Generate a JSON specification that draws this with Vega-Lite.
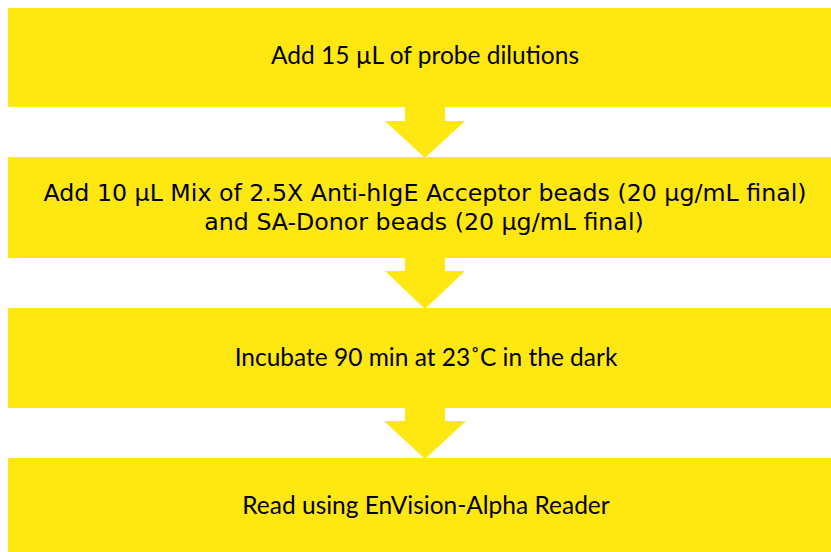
{
  "$schema": "https://vega.github.io/schema/vega-lite/v6.json",
  "width": 831,
  "height": 552,
  "padding": 0,
  "autosize": {"type": "none"},
  "background": "white",
  "config": {"view": {"stroke": null}},
  "datasets": {
    "boxes": [
      {"step": 1, "x": 8, "x2": 831, "y": 8, "y2": 107},
      {"step": 2, "x": 8, "x2": 831, "y": 157, "y2": 258},
      {"step": 3, "x": 8, "x2": 831, "y": 308, "y2": 408},
      {"step": 4, "x": 8, "x2": 831, "y": 458, "y2": 552}
    ],
    "shafts": [
      {"arrow": 1, "x": 405, "x2": 445, "y": 106, "y2": 122},
      {"arrow": 2, "x": 405, "x2": 445, "y": 257, "y2": 272},
      {"arrow": 3, "x": 405, "x2": 445, "y": 407, "y2": 422}
    ],
    "heads": [
      {"arrow": 1, "x": 385, "y": 121, "y2": 121},
      {"arrow": 1, "x": 425, "y": 121, "y2": 158},
      {"arrow": 1, "x": 465, "y": 121, "y2": 121},
      {"arrow": 2, "x": 385, "y": 271, "y2": 271},
      {"arrow": 2, "x": 425, "y": 271, "y2": 309},
      {"arrow": 2, "x": 465, "y": 271, "y2": 271},
      {"arrow": 3, "x": 384, "y": 421, "y2": 421},
      {"arrow": 3, "x": 425, "y": 421, "y2": 459},
      {"arrow": 3, "x": 466, "y": 421, "y2": 421}
    ],
    "calibri": [
      {"label": "Add 15 µL of probe dilutions", "x": 425, "y": 64},
      {"label": "Incubate 90 min at 23˚C in the dark", "x": 426, "y": 366},
      {"label": "Read using EnVision-Alpha Reader", "x": 426, "y": 514}
    ],
    "arial": [
      {"label": "Add 10 µL Mix of 2.5X  Anti-hIgE Acceptor beads (20 µg/mL final)", "x": 425, "y": 201},
      {"label": "and SA-Donor beads (20 µg/mL final)", "x": 424, "y": 230}
    ]
  },
  "layer": [
    {
      "data": {"name": "boxes"},
      "mark": {"type": "rect", "color": "#FFE811", "clip": true},
      "encoding": {
        "x": {"field": "x", "type": "quantitative", "scale": {"domain": [0, 831], "nice": false, "zero": false}, "axis": null},
        "x2": {"field": "x2"},
        "y": {"field": "y", "type": "quantitative", "scale": {"domain": [0, 552], "nice": false, "zero": false, "reverse": true}, "axis": null},
        "y2": {"field": "y2"}
      }
    },
    {
      "data": {"name": "shafts"},
      "mark": {"type": "rect", "color": "#FFE811"},
      "encoding": {
        "x": {"field": "x", "type": "quantitative"},
        "x2": {"field": "x2"},
        "y": {"field": "y", "type": "quantitative"},
        "y2": {"field": "y2"}
      }
    },
    {
      "data": {"name": "heads"},
      "mark": {"type": "area", "color": "#FFE811", "opacity": 1, "orient": "vertical"},
      "encoding": {
        "detail": {"field": "arrow", "type": "nominal"},
        "x": {"field": "x", "type": "quantitative"},
        "y": {"field": "y", "type": "quantitative"},
        "y2": {"field": "y2"}
      }
    },
    {
      "data": {"name": "calibri"},
      "mark": {"type": "text", "font": "Lato", "fontSize": 24.5, "color": "#000000", "align": "center", "baseline": "alphabetic"},
      "encoding": {
        "x": {"field": "x", "type": "quantitative"},
        "y": {"field": "y", "type": "quantitative"},
        "text": {"field": "label"}
      }
    },
    {
      "data": {"name": "arial"},
      "mark": {"type": "text", "font": "DejaVu Sans", "fontSize": 23.7, "color": "#000000", "align": "center", "baseline": "alphabetic"},
      "encoding": {
        "x": {"field": "x", "type": "quantitative"},
        "y": {"field": "y", "type": "quantitative"},
        "text": {"field": "label"}
      }
    }
  ]
}
